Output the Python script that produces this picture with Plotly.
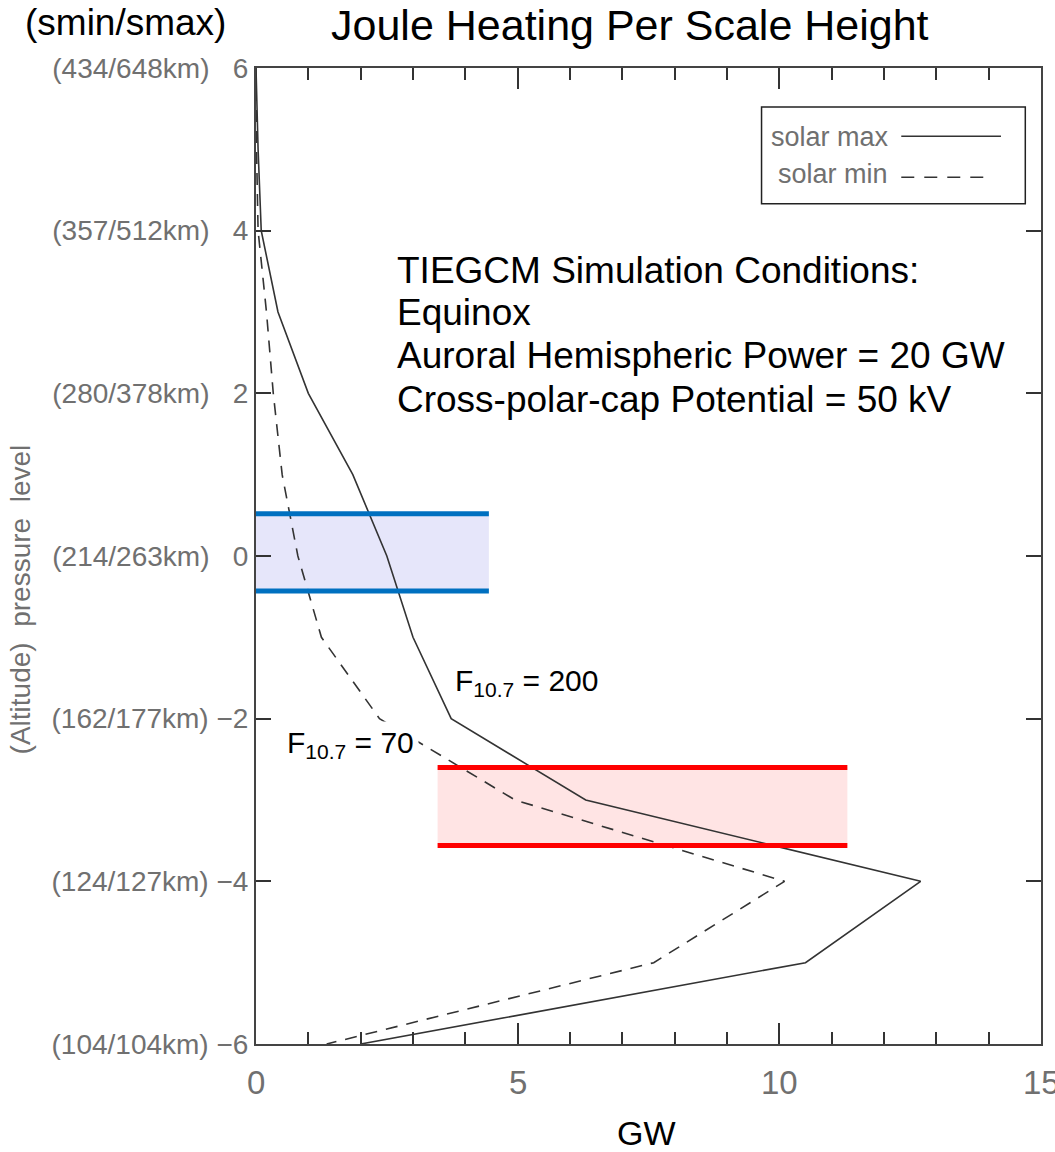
import plotly.graph_objects as go

# Pressure levels (model grid) and Joule heating per scale height (GW)
levels = [6, 5, 4, 3, 2, 1, 0, -1, -2, -3, -4, -5, -6]
solar_max = [0.0, 0.04, 0.10, 0.42, 1.00, 1.85, 2.50, 3.00, 3.73, 6.30, 12.70, 10.50, 2.00]
solar_min = [0.0, 0.01, 0.04, 0.20, 0.33, 0.50, 0.80, 1.25, 2.36, 4.95, 10.10, 7.60, 1.35]

# Y tick labels: altitude range (solar min / solar max) plus pressure level
tick_levels = [6, 4, 2, 0, -2, -4, -6]
tick_alts = ["(434/648km)", "(357/512km)", "(280/378km)", "(214/263km)",
             "(162/177km)", "(124/127km)", "(104/104km)"]

# X ticks (GW)
x_ticks = [0, 5, 10, 15]

# Highlighted layers: [x0, x1, y_bottom, y_top]
blue_band = [0.0, 4.45, -0.43, 0.52]
red_band = [3.47, 11.3, -3.56, -2.60]

conditions = ["TIEGCM Simulation Conditions:", "Equinox",
              "Auroral Hemispheric Power = 20 GW",
              "Cross-polar-cap Potential = 50 kV"]

NB = "\u00a0"


def level_label(alt, lev):
    if lev < 0:
        return alt + NB + "\u2212" + str(abs(lev))
    return alt + NB * 3 + str(lev)


ticktext = [level_label(a, l) for a, l in zip(tick_alts, tick_levels)]

LINE = "#333333"
GRAY = "#707070"
TICKFONT = "Liberation Sans, Arial, sans-serif"
NARROW = "Liberation Sans Narrow, Arial Narrow, Liberation Sans, sans-serif"
TEXTFONT = "Liberation Sans, Arial, Helvetica, sans-serif"

fig = go.Figure()

fig.add_trace(go.Scatter(x=solar_max, y=levels, mode="lines",
                         line=dict(color=LINE, width=1.6), showlegend=False))
fig.add_trace(go.Scatter(x=solar_min, y=levels, mode="lines",
                         line=dict(color=LINE, width=1.6, dash="12px,9px"),
                         showlegend=False))

shapes = []
for band, fill, edge in [(blue_band, "#E6E6FA", "#0070C0"),
                         (red_band, "#FFE4E4", "#FF0000")]:
    x0, x1, yb, yt = band
    shapes.append(dict(type="rect", xref="x", yref="y", x0=x0, x1=x1, y0=yb, y1=yt,
                       fillcolor=fill, line=dict(width=0), layer="below"))
    for yy in (yb, yt):
        shapes.append(dict(type="line", xref="x", yref="y", x0=x0, x1=x1, y0=yy, y1=yy,
                           line=dict(color=edge, width=5), layer="above"))

# Legend box with line samples to the right of the labels
shapes.append(dict(type="rect", xref="paper", yref="paper", x0=0.644, x1=0.980,
                   y0=0.861, y1=0.960, line=dict(color="#222222", width=1.5),
                   fillcolor="white", layer="above"))
shapes.append(dict(type="line", xref="paper", yref="paper", x0=0.822, x1=0.949,
                   y0=0.930, y1=0.930, line=dict(color=LINE, width=1.6)))
shapes.append(dict(type="line", xref="paper", yref="paper", x0=0.822, x1=0.933,
                   y0=0.888, y1=0.888, line=dict(color=LINE, width=1.6, dash="13px,10px")))

annotations = []
annotations.append(dict(text="solar max", xref="paper", yref="paper", x=0.654, y=0.929,
                        xanchor="left", yanchor="middle", showarrow=False,
                        font=dict(family=TICKFONT, size=27, color=GRAY)))
annotations.append(dict(text="solar min", xref="paper", yref="paper", x=0.663, y=0.891,
                        xanchor="left", yanchor="middle", showarrow=False,
                        font=dict(family=TICKFONT, size=27, color=GRAY)))

for txt, yp in zip(conditions, [0.793, 0.750, 0.705, 0.660]):
    annotations.append(dict(text=txt, xref="paper", yref="paper", x=0.1766, y=yp,
                            xanchor="left", yanchor="middle", showarrow=False,
                            font=dict(family=TEXTFONT, size=37, color="black")))

annotations.append(dict(text="F<sub>10.7</sub> = 200", xref="x", yref="y", x=3.72, y=-1.55,
                        xanchor="left", yanchor="middle", showarrow=False,
                        bgcolor="white", borderpad=3,
                        font=dict(family=TEXTFONT, size=30, color="black")))
annotations.append(dict(text="F<sub>10.7</sub> = 70", xref="x", yref="y", x=0.5, y=-2.32,
                        xanchor="left", yanchor="middle", showarrow=False,
                        bgcolor="white", borderpad=4,
                        font=dict(family=TEXTFONT, size=30, color="black")))

# X tick labels placed beneath the axis so the last one may run to the page edge
for xv in x_ticks:
    annotations.append(dict(text=str(xv), xref="x", yref="paper", x=xv, y=-0.039,
                            xanchor="center", yanchor="middle", showarrow=False,
                            font=dict(family=NARROW, size=33, color=GRAY)))

annotations.append(dict(text="Joule Heating Per Scale Height", xref="paper", yref="paper",
                        x=0.4765, y=1.044, xanchor="center", yanchor="middle",
                        showarrow=False, font=dict(family=TEXTFONT, size=43, color="black")))
annotations.append(dict(text="(smin/smax)", xref="paper", yref="paper",
                        x=-0.297, y=1.047, xanchor="left", yanchor="middle",
                        showarrow=False, font=dict(family=TEXTFONT, size=37, color="black")))
annotations.append(dict(text="GW", xref="paper", yref="paper", x=0.497, y=-0.0915,
                        xanchor="center", yanchor="middle", showarrow=False,
                        font=dict(family=TEXTFONT, size=34, color="black")))
annotations.append(dict(text="(Altitude)" + NB * 2 + "pressure" + NB * 2 + "level",
                        xref="paper", yref="paper", x=-0.300, y=0.455,
                        xanchor="center", yanchor="middle", textangle=-90,
                        showarrow=False, font=dict(family=TICKFONT, size=28, color=GRAY)))

fig.update_layout(
    width=1055, height=1152,
    margin=dict(l=256, r=12, t=68, b=108),
    paper_bgcolor="white", plot_bgcolor="white",
    shapes=shapes, annotations=annotations,
    xaxis=dict(range=[0, 15], tickvals=x_ticks, showticklabels=False,
               ticks="inside", ticklen=21, tickwidth=1.5, tickcolor=LINE,
               minor=dict(ticks="inside", ticklen=12, tickwidth=1.5, tickcolor=LINE, dtick=1),
               showline=True, linecolor="#444444", linewidth=2, mirror="ticks",
               showgrid=False, zeroline=False),
    yaxis=dict(range=[-6, 6], tickvals=tick_levels, ticktext=ticktext,
               ticks="inside", ticklen=15, tickwidth=1.5, tickcolor=LINE,
               showline=True, linecolor="#444444", linewidth=2, mirror="ticks",
               showgrid=False, zeroline=False, ticklabelstandoff=0,
               tickfont=dict(family=TICKFONT, size=28, color=GRAY)),
)

fig.write_html("out.html")
